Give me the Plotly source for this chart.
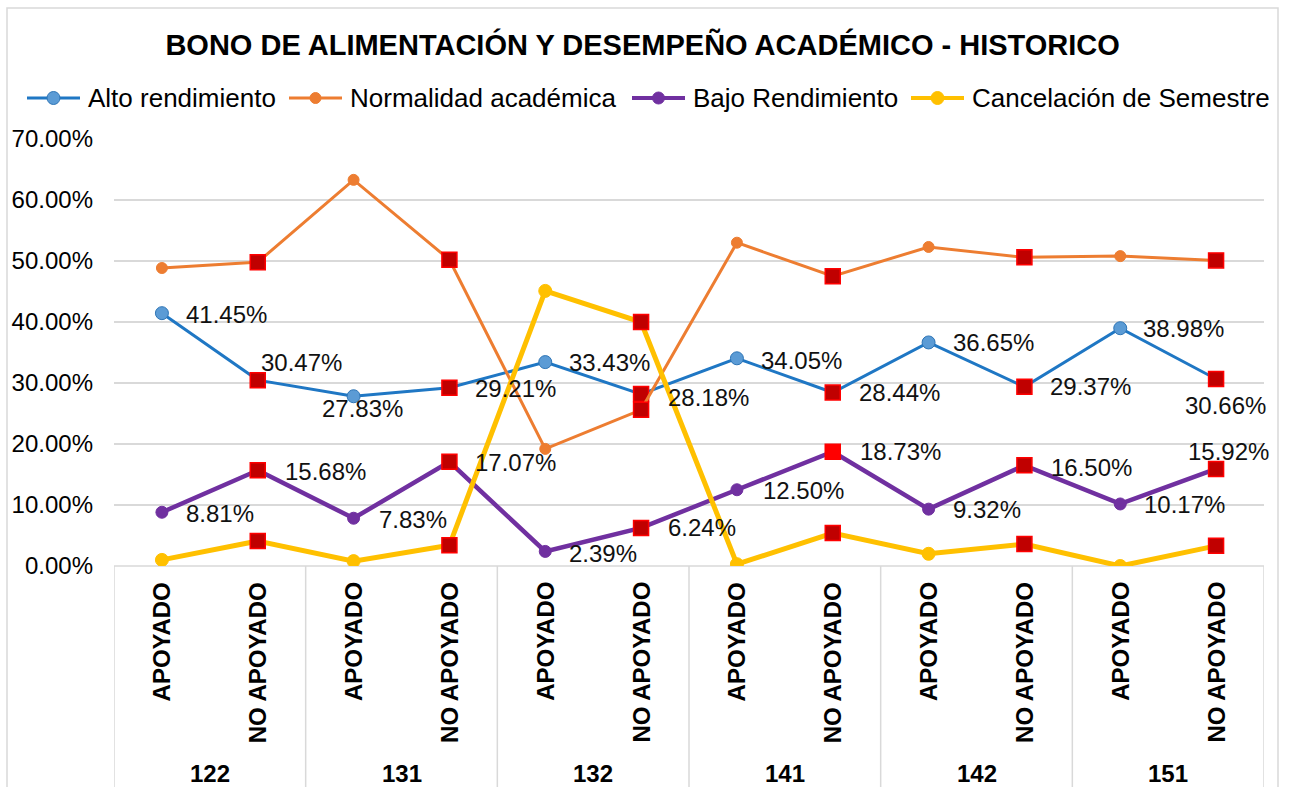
import plotly.graph_objects as go

# --- datos -----------------------------------------------------------------
semestres = ["122", "131", "132", "141", "142", "151"]
condiciones = ["APOYADO", "NO APOYADO"]
categorias = [c for s in semestres for c in condiciones]

alto_rendimiento = [41.45, 30.47, 27.83, 29.21, 33.43, 28.18, 34.05, 28.44, 36.65, 29.37, 38.98, 30.66]
normalidad = [48.85, 49.80, 63.30, 50.20, 19.20, 25.60, 53.00, 47.50, 52.30, 50.60, 50.80, 50.10]
bajo_rendimiento = [8.81, 15.68, 7.83, 17.07, 2.39, 6.24, 12.50, 18.73, 9.32, 16.50, 10.17, 15.92]
cancelacion = [1.00, 4.10, 0.80, 3.40, 45.10, 40.00, 0.30, 5.40, 2.00, 3.60, 0.00, 3.30]

y_ticks = [0, 10, 20, 30, 40, 50, 60, 70]

# --- estilo ----------------------------------------------------------------
FONT = "Liberation Sans, Arial, sans-serif"
ROJO_OSCURO = "#C00000"
ROJO = "#FF0000"
GRID = "#D9D9D9"

W, H = 1293, 787
M_L, M_R, M_T, M_B = 114, 29, 139, 221
PW, PH = W - M_L - M_R, H - M_T - M_B


def px_x(p):
    """columna en píxeles -> coordenada 'paper'"""
    return (p - M_L) / PW


def px_y(p):
    """fila en píxeles -> coordenada 'paper'"""
    return (H - M_B - p) / PH


xs = list(range(len(categorias)))
no_apoyado = [i for i, c in enumerate(categorias) if c == "NO APOYADO"]

series = [
    dict(name="Alto rendimiento", y=alto_rendimiento, line="#1F77C4", width=3,
         mfill="#5B9BD5", mline="#2E75B6", msize=13),
    dict(name="Normalidad académica", y=normalidad, line="#ED7D31", width=3,
         mfill="#ED7D31", mline="#ED7D31", msize=11),
    dict(name="Bajo Rendimiento", y=bajo_rendimiento, line="#7030A0", width=4.5,
         mfill="#7030A0", mline="#7030A0", msize=12),
    dict(name="Cancelación de Semestre", y=cancelacion, line="#FFC000", width=5,
         mfill="#FFC000", mline="#FFC000", msize=13),
]

fig = go.Figure()
for s in series:
    fig.add_trace(go.Scatter(
        x=xs, y=s["y"], name=s["name"], mode="lines+markers", showlegend=False,
        line=dict(color=s["line"], width=s["width"]),
        marker=dict(symbol="circle", size=s["msize"], color=s["mfill"],
                    line=dict(color=s["mline"], width=1)),
        hoverinfo="skip",
    ))
    # los puntos "NO APOYADO" se resaltan con cuadrados rojos
    fill = [ROJO_OSCURO] * len(no_apoyado)
    if s["name"] == "Bajo Rendimiento":
        fill[no_apoyado.index(7)] = ROJO
    fig.add_trace(go.Scatter(
        x=[xs[i] for i in no_apoyado], y=[s["y"][i] for i in no_apoyado],
        mode="markers", showlegend=False, hoverinfo="skip",
        marker=dict(symbol="square", size=15, color=fill,
                    line=dict(color=ROJO, width=1.5)),
    ))

# --- etiquetas de datos (desplazamientos en px: ancla, dx, dy) ---------------
pos_alto = [("left", 22, -1), ("left", 1, 18), ("center", 9, -12), ("left", 24, -1),
            ("left", 22, 0), ("left", 25, -3), ("left", 22, -2), ("left", 24, 0),
            ("left", 22, 0), ("left", 24, 0), ("left", 21, 0), ("center", 9, -27)]
pos_bajo = [("left", 22, -1), ("left", 25, -1), ("left", 23, -1), ("left", 24, -1),
            ("left", 22, -2), ("left", 25, 0), ("left", 24, -1), ("left", 25, 0),
            ("left", 22, 0), ("left", 25, -2), ("left", 22, -1), ("center", 12, 17)]

annotations = []
for valores, posiciones in ((alto_rendimiento, pos_alto), (bajo_rendimiento, pos_bajo)):
    for i, (v, (anc, dx, dy)) in enumerate(zip(valores, posiciones)):
        annotations.append(dict(
            x=xs[i], y=v, xref="x", yref="y", text=f"{v:.2f}%", showarrow=False,
            xanchor=anc, yanchor="middle", xshift=dx, yshift=dy,
            font=dict(family=FONT, size=24, color="#111111"),
        ))

# --- eje de categorías en dos niveles ---------------------------------------
for i, c in enumerate(categorias):
    annotations.append(dict(
        x=xs[i], y=0, xref="x", yref="paper", text=f"<b>{c}</b>", showarrow=False,
        textangle=-90, xanchor="center", yanchor="top", yshift=-14,
        font=dict(family=FONT, size=24, color="#000000"),
    ))
for k, s in enumerate(semestres):
    annotations.append(dict(
        x=2 * k + 0.5, y=0, xref="x", yref="paper", text=f"<b>{s}</b>", showarrow=False,
        xanchor="center", yanchor="middle", yshift=-207,
        font=dict(family=FONT, size=24, color="#000000"),
    ))

shapes = []
for k in range(len(semestres) + 1):
    shapes.append(dict(type="line", xref="x", yref="paper", x0=2 * k - 0.5, x1=2 * k - 0.5,
                       y0=0, y1=px_y(H + 20), line=dict(color=GRID, width=1.5), layer="below"))
shapes.append(dict(type="line", xref="x", yref="paper", x0=-0.5, x1=11.5, y0=0, y1=0,
                   line=dict(color=GRID, width=1.5), layer="below"))
# marco del área del gráfico
shapes.append(dict(type="rect", xref="paper", yref="paper", x0=px_x(7), x1=px_x(1278),
                   y0=px_y(H + 20), y1=px_y(8), line=dict(color=GRID, width=1.5),
                   layer="below"))

# --- leyenda en una sola fila ------------------------------------------------
LEG_Y = 98
leg_x = [27, 289, 632, 911]
SIM_LEN = 53
for s, x0 in zip(series, leg_x):
    shapes.append(dict(type="line", xref="paper", yref="paper",
                       x0=px_x(x0), x1=px_x(x0 + SIM_LEN), y0=px_y(LEG_Y), y1=px_y(LEG_Y),
                       line=dict(color=s["line"], width=min(s["width"], 4))))
    r = s["msize"] / 2
    cx = x0 + SIM_LEN / 2
    shapes.append(dict(type="circle", xref="paper", yref="paper",
                       x0=px_x(cx - r), x1=px_x(cx + r),
                       y0=px_y(LEG_Y + r), y1=px_y(LEG_Y - r),
                       fillcolor=s["mfill"], line=dict(color=s["mline"], width=1)))
    annotations.append(dict(
        x=px_x(x0 + SIM_LEN + 6), y=px_y(LEG_Y), xref="paper", yref="paper",
        text=s["name"], showarrow=False, xanchor="left", yanchor="middle",
        font=dict(family=FONT, size=26, color="#000000"),
    ))

fig.update_layout(
    width=W, height=H,
    margin=dict(l=M_L, r=M_R, t=M_T, b=M_B, autoexpand=False),
    paper_bgcolor="white", plot_bgcolor="white",
    font=dict(family=FONT, color="#000000"),
    title=dict(text="<b>BONO DE ALIMENTACIÓN Y DESEMPEÑO ACADÉMICO - HISTORICO</b>",
               x=0.497, xref="container", xanchor="center",
               y=1 - 45 / H, yref="container", yanchor="middle",
               font=dict(family=FONT, size=29, color="#000000")),
    xaxis=dict(range=[-0.5, 11.5], showgrid=False, zeroline=False, showticklabels=False,
               ticks="", showline=False, fixedrange=True),
    yaxis=dict(range=[0, 70], tickmode="array", tickvals=y_ticks,
               ticktext=[f"{v:.2f}%" for v in y_ticks],
               showgrid=True, gridcolor=GRID, gridwidth=1.5, zeroline=False,
               showline=False, ticks="", ticklabelstandoff=20,
               tickfont=dict(family=FONT, size=24, color="#000000")),
    annotations=annotations,
    shapes=shapes,
    showlegend=False,
)

fig.write_html("out.html")
